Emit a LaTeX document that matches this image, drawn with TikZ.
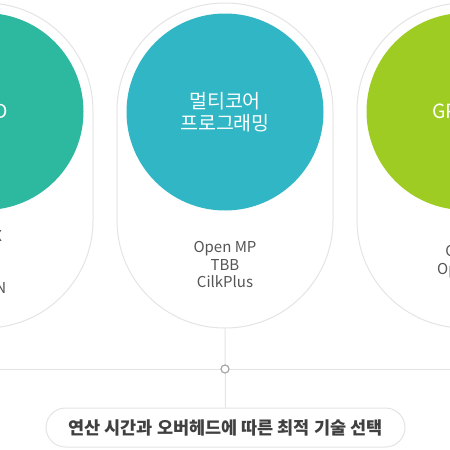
\documentclass[tikz,border=0pt]{standalone}
\usepackage{fontspec}
\setmainfont{Noto Sans CJK KR}
\usepackage{xcolor}
\usepackage{tikz}
\usetikzlibrary{positioning}

\definecolor{simdc}{RGB}{45,184,160}
\definecolor{multic}{RGB}{48,182,196}
\definecolor{gpuc}{RGB}{159,204,34}
\definecolor{linec}{RGB}{228,228,228}
\definecolor{textc}{RGB}{85,85,85}
\definecolor{titlec}{RGB}{64,64,64}

\begin{document}
\begin{tikzpicture}[x=1pt, y=-1pt,
    capsule/.style={draw=linec, line width=1pt, fill=white, rounded corners=107.5pt,
        minimum width=216pt, minimum height=325pt, inner sep=0pt},
    ball/.style={circle, minimum size=197pt, inner sep=0pt, text=white,
        font=\fontsize{19.5}{22.5}\selectfont, align=center},
    body/.style={text=textc, font=\fontsize{15}{17.6}\selectfont, align=center},
    tech/.style={draw=linec, line width=1pt, fill=white, rounded corners=19.5pt,
        minimum width=359pt, minimum height=39pt, text=titlec,
        font=\fontsize{17.5}{18}\bfseries},
    hub/.style={circle, draw=black!35, line width=1.2pt, fill=white,
        minimum size=8pt, inner sep=0pt}]
    \useasboundingbox (0,0) rectangle (450,450);
    \clip (0,0) rectangle (450,450);

    % 1. Capsules
    \foreach \cx/\nm in {-15/simd, 225/multi, 465/gpu} {
        \node[capsule] (\nm) at (\cx,165.5) {};
    }

    % 2. Circles
    \node[ball, fill=simdc] (simdball) at (-15,111.5) {SIMD};
    \node[ball, fill=multic] (multiball) at (225,112) {멀티코어\\프로그래밍};
    \node[ball, fill=gpuc] (gpuball) at (465,111.5) {GPGPU};

    % 3. Techniques
    \node[body] (simdlist) at (-14.5,262) {MMX\\SSE\\AVX\\NEON};
    \node[body] (multilist) at (225,264.5) {Open MP\\TBB\\CilkPlus};
    \node[body] (gpulist) at (465,261.5) {CUDA\\OpenCL};

    % 4. Connectors
    \node[tech] (choice) at (225.5,427.5) {연산 시간과 오버헤드에 따른 최적 기술 선택};
    \coordinate (leftend) at (-15,369);
    \coordinate (rightend) at (465,369);
    \draw[linec, line width=1pt] (leftend) -- (rightend);
    \draw[linec, line width=1pt] (multi.south) -- (choice.north);
    \node[hub] (joint) at (225,369) {};
\end{tikzpicture}
\end{document}
